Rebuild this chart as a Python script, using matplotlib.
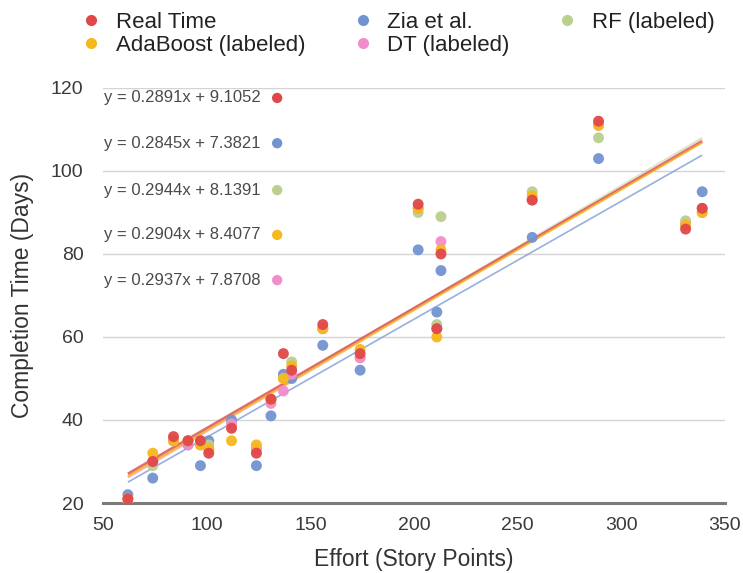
import matplotlib
matplotlib.use('Agg')
import matplotlib.pyplot as plt
from matplotlib.lines import Line2D

plt.rcParams['font.family'] = ['Liberation Sans', 'DejaVu Sans']

# ---- data ----
effort = [62, 74, 84, 91, 97, 101, 112, 124, 131, 137, 141, 156, 174, 202, 211, 213, 257, 289, 331, 339]
real_time = [21, 30, 36, 35, 35, 32, 38, 32, 45, 56, 52, 63, 56, 92, 62, 80, 93, 112, 86, 91]
zia = [22, 26, 35, 34, 29, 35, 40, 29, 41, 51, 50, 58, 52, 81, 66, 76, 84, 103, 87, 95]
rf = [21, 29, 35, 35, 34, 34, 39, 33, 45, 50, 54, 62, 55, 90, 63, 89, 95, 108, 88, 90]
adaboost = [21, 32, 35, 35, 34, 33, 35, 34, 45, 50, 53, 62, 57, 91, 60, 81, 94, 111, 87, 90]
dt = [20, 30, 35, 34, 35, 33, 39, 33, 44, 47, 51, 62, 55, 91, 62, 83, 93, 111, 87, 91]

series_names = ['Real Time', 'Zia et al.', 'RF (labeled)', 'AdaBoost (labeled)', 'DT (labeled)']
slopes = [0.2891, 0.2845, 0.2944, 0.2904, 0.2937]
intercepts = [9.1052, 7.3821, 8.1391, 8.4077, 7.8708]
x_ticks = [50, 100, 150, 200, 250, 300, 350]
y_ticks = [20, 40, 60, 80, 100, 120]

# ---- style ----
colors = ['#E0474A', '#7393D0', '#BBCF8E', '#F6B81C', '#F28DCB']
series = [real_time, zia, rf, adaboost, dt]

fig = plt.figure(figsize=(7.43, 5.73), dpi=100)
ax = fig.add_axes([103 / 743, 1 - 503 / 573, 622 / 743, 415 / 573])

ax.set_xlim(50, 350)
ax.set_ylim(20, 120)
ax.set_xticks(x_ticks)
ax.set_yticks(y_ticks)
ax.tick_params(length=0, labelsize=14, colors='#3a3a3a')
ax.tick_params(axis='y', pad=14)
ax.tick_params(axis='x', pad=10)
ax.yaxis.grid(True, color='#d4d4d4', linewidth=1.0)
ax.set_axisbelow(True)
for s in ['top', 'right', 'left']:
    ax.spines[s].set_visible(False)
ax.spines['bottom'].set_color('#7a7a7a')
ax.spines['bottom'].set_linewidth(2.2)
ax.spines['bottom'].set_zorder(1)

# trend lines
xmin, xmax = min(effort), max(effort)
line_styles = {1: (1.2, 0.85, '#86A2DA'), 2: (1.6, 0.5, colors[2]), 4: (1.6, 0.5, colors[4]),
               0: (2.0, 0.8, colors[0]), 3: (1.6, 0.75, colors[3])}
for i in [1, 2, 4, 0, 3]:
    lw, al, c = line_styles[i]
    ax.plot([xmin, xmax], [slopes[i] * xmin + intercepts[i], slopes[i] * xmax + intercepts[i]],
            color=c, linewidth=lw, zorder=2, alpha=al, solid_capstyle='butt')

# scatter points
for i in [1, 2, 4, 3, 0]:
    ax.scatter(effort, series[i], s=62, color=colors[i], edgecolors='none', zorder=3, alpha=0.95)

# equation labels
eq_y = [117.6, 106.7, 95.4, 84.6, 73.7]
for i in range(5):
    txt = f"y = {slopes[i]:.4f}x + {intercepts[i]:.4f}"
    ax.text(50.3, eq_y[i], txt, fontsize=12, color='#4a4a4a', va='center', ha='left', zorder=4)
    ax.scatter([134], [eq_y[i]], s=55, color=colors[i], edgecolors='none', zorder=4, clip_on=False)

ax.set_xlabel('Effort (Story Points)', fontsize=16.5, color='#333333', labelpad=10)
ax.set_ylabel('Completion Time (Days)', fontsize=16.5, color='#333333', labelpad=12)

# legend (row-major order across 3 columns)
handles = [Line2D([0], [0], marker='o', linestyle='none', markersize=8,
                  markerfacecolor=c, markeredgecolor='none') for c in colors]
order = [0, 3, 1, 4, 2]
fig.legend([handles[k] for k in order], [series_names[k] for k in order],
           ncol=3, loc='upper left', bbox_to_anchor=(80 / 743, 1 - 12 / 573),
           frameon=False, fontsize=16, handlelength=1.0, handletextpad=0.6,
           columnspacing=2.1, labelspacing=0.1, borderpad=0, borderaxespad=0,
           labelcolor='#222222')

fig.savefig('out.png', dpi=100)
